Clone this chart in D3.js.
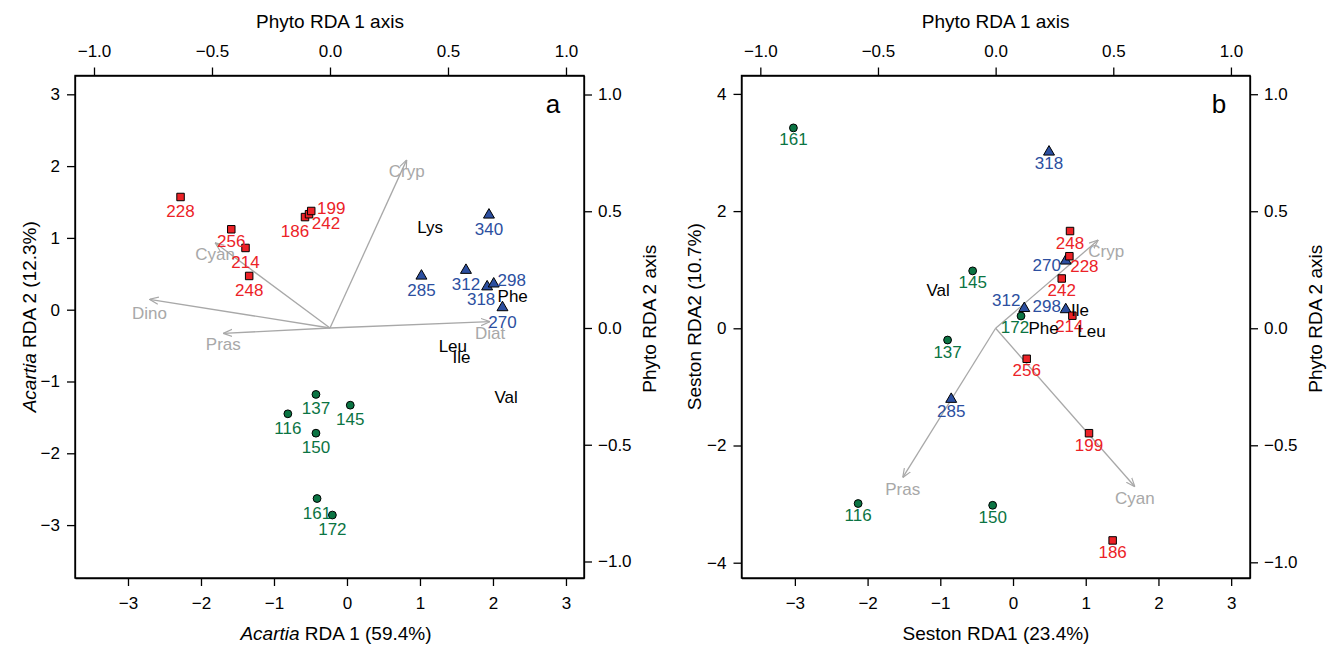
<!DOCTYPE html>
<html>
<head>
<meta charset="utf-8">
<script src="https://cdn.jsdelivr.net/npm/d3@7"></script>
<style>
  body { margin: 0; background: #fff; }
  text { font-family: "Liberation Sans", Arial, Helvetica, sans-serif; }
</style>
</head>
<body>
<div id="container"></div>
<script>
// ---- panel a : Acartia RDA ----
// [label, RDA1, RDA2]
var aRed   = [["228",-2.28,1.57],["256",-1.585,1.12],["214",-1.39,0.86],["248",-1.34,0.47],
              ["186",-0.575,1.29],["242",-0.52,1.33],["199",-0.49,1.375]];
var aBlue  = [["340",1.945,1.32],["285",1.02,0.47],["312",1.63,0.55],["318",1.92,0.32],
              ["298",2.01,0.36],["270",2.13,0.03]];
var aGreen = [["137",-0.425,-1.18],["145",0.045,-1.33],["116",-0.81,-1.45],["150",-0.425,-1.72],
              ["161",-0.41,-2.63],["172",-0.2,-2.86]];
var aAmino = [["Lys",1.14,1.14],["Phe",2.27,0.19],["Leu",1.45,-0.51],["Ile",1.57,-0.67],["Val",2.18,-1.22]];
// phyto arrows, on the phyto axes
var aPhyto = [["Cryp",0.325,0.72],["Cyan",-0.487,0.365],["Dino",-0.765,0.123],["Pras",-0.452,-0.023],["Diat",0.678,0.027]];

// ---- panel b : Seston RDA ----
var bGreen = [["161",-3.02,3.42],["145",-0.555,0.98],["137",-0.90,-0.20],["172",0.11,0.21],
              ["116",-2.13,-2.99],["150",-0.28,-3.02]];
var bRed   = [["248",0.784,1.66],["228",0.775,1.23],["242",0.67,0.85],["214",0.816,0.215],
              ["256",0.188,-0.52],["199",1.045,-1.79],["186",1.37,-3.62]];
var bBlue  = [["318",0.495,3.01],["270",0.725,1.15],["312",0.155,0.34],["298",0.725,0.32],["285",-0.85,-1.21]];
var bAmino = [["Val",-1.03,0.65],["Ile",0.92,0.31],["Leu",1.08,-0.06],["Phe",0.42,0.0]];
var bPhyto = [["Cryp",0.436,0.377],["Pras",-0.395,-0.638],["Cyan",0.592,-0.677]];

var xTicks = [-3,-2,-1,0,1,2,3];
var aYTicks = [-3,-2,-1,0,1,2,3];
var bYTicks = [-4,-2,0,2,4];
var phytoTicks = [-1,-0.5,0,0.5,1];

// label nudges (px), default is straight below the symbol
var aNudge = {"186":[-10,14],"242":[17,9],"199":[20,-2],"318":[-6,12.5],"298":[18,-3],"256":[0,12.5]};
var bNudge = {"228":[15,10],"214":[-3,11],"172":[-6,12],"270":[-19,5],"312":[-18,-8],"298":[-19,-3]};

var RED = "#ec2227", BLUE = "#2c4fa0", GREEN = "#0b7443", GREY = "#a8a8a8";
var width = 1336, height = 646;

var svg = d3.select("div#container").append("svg")
  .attr("width", width).attr("height", height);

svg.append("defs").append("marker")
  .attr("id", "head")
  .attr("viewBox", "0 0 10 10")
  .attr("refX", 10).attr("refY", 5)
  .attr("markerWidth", 9).attr("markerHeight", 9)
  .attr("markerUnits", "userSpaceOnUse")
  .attr("orient", "auto")
  .append("path")
  .attr("d", "M0,1 L10,5 L0,9")
  .attr("fill", "none").attr("stroke", GREY).attr("stroke-width", 1.3);

function drawPanel(p) {
  var top = 75.5, bottom = 578;
  var x = d3.scaleLinear().domain(p.xdom).range([p.left, p.right]);
  var y = d3.scaleLinear().domain(p.ydom).range([bottom, top]);
  var px = d3.scaleLinear().domain(p.pxdom).range([p.left, p.right]);
  var py = d3.scaleLinear().domain(p.pydom).range([bottom, top]);
  var g = svg.append("g");

  function styleAxis(ax) {
    ax.selectAll("path,line").attr("stroke", "#000").attr("stroke-width", 1.3);
    ax.selectAll("text").attr("font-size", 17).attr("fill", "#000")
      .style("font-family", "'Liberation Sans', Arial, sans-serif");
  }
  styleAxis(g.append("g").attr("transform", "translate(0," + bottom + ")")
    .call(d3.axisBottom(x).tickValues(xTicks).tickSize(8).tickSizeOuter(0).tickPadding(11).tickFormat(d3.format("d"))));
  styleAxis(g.append("g").attr("transform", "translate(" + p.left + ",0)")
    .call(d3.axisLeft(y).tickValues(p.yticks).tickSize(8).tickSizeOuter(0).tickPadding(7).tickFormat(d3.format("d"))));
  styleAxis(g.append("g").attr("transform", "translate(0," + top + ")")
    .call(d3.axisTop(px).tickValues(phytoTicks).tickSize(8).tickSizeOuter(0).tickPadding(11).tickFormat(d3.format(".1f"))));
  styleAxis(g.append("g").attr("transform", "translate(" + p.right + ",0)")
    .call(d3.axisRight(py).tickValues(phytoTicks).tickSize(8).tickSizeOuter(0).tickPadding(6).tickFormat(d3.format(".1f"))));

  g.append("rect")
    .attr("x", p.left).attr("y", top)
    .attr("width", p.right - p.left).attr("height", bottom - top)
    .attr("fill", "none").attr("stroke", "#000").attr("stroke-width", 1.4);

  // arrows
  g.selectAll(".arrow").data(p.phyto).enter().append("line")
    .attr("x1", px(0)).attr("y1", py(0))
    .attr("x2", function(d) { return px(d[1]); })
    .attr("y2", function(d) { return py(d[2]); })
    .attr("stroke", GREY).attr("stroke-width", 1.3)
    .attr("marker-end", "url(#head)");
  g.selectAll(".alab").data(p.phyto).enter().append("text")
    .attr("x", function(d) { var n = p.arrowNudge[d[0]] || [0, 11.5]; return px(d[1]) + n[0]; })
    .attr("y", function(d) { var n = p.arrowNudge[d[0]] || [0, 11.5]; return py(d[2]) + n[1]; })
    .attr("text-anchor", "middle").attr("dominant-baseline", "central")
    .attr("font-size", 17).attr("fill", GREY)
    .text(function(d) { return d[0]; });

  // site symbols + labels
  function sites(data, shape, size, col) {
    g.selectAll(null).data(data).enter().append("path")
      .attr("d", d3.symbol().type(shape).size(size))
      .attr("transform", function(d) { return "translate(" + x(d[1]) + "," + y(d[2]) + ")"; })
      .attr("fill", col).attr("stroke", "#000").attr("stroke-width", 1);
    g.selectAll(null).data(data).enter().append("text")
      .attr("x", function(d) { var n = p.nudge[d[0]] || [0, p.below]; return x(d[1]) + n[0]; })
      .attr("y", function(d) { var n = p.nudge[d[0]] || [0, p.below]; return y(d[2]) + n[1]; })
      .attr("text-anchor", "middle").attr("dominant-baseline", "central")
      .attr("font-size", 17).attr("fill", col)
      .text(function(d) { return d[0]; });
  }
  sites(p.blue, d3.symbolTriangle, 52, BLUE);
  sites(p.red, d3.symbolSquare, 56, RED);
  sites(p.green, d3.symbolCircle, 48, GREEN);

  g.selectAll(null).data(p.amino).enter().append("text")
    .attr("x", function(d) { return x(d[1]); })
    .attr("y", function(d) { return y(d[2]); })
    .attr("text-anchor", "middle").attr("dominant-baseline", "central")
    .attr("font-size", 17).attr("fill", "#000")
    .text(function(d) { return d[0]; });

  // panel letter
  g.append("text").attr("x", p.right - 31).attr("y", 113)
    .attr("text-anchor", "middle").attr("font-size", 26).text(p.letter);

  // titles
  g.append("text").attr("x", px(0)).attr("y", 28).attr("text-anchor", "middle")
    .attr("font-size", 19).text("Phyto RDA 1 axis");
  var bt = g.append("text").attr("x", p.xtitleX).attr("y", 640).attr("text-anchor", "middle").attr("font-size", 19);
  if (p.italic) bt.append("tspan").attr("font-style", "italic").text(p.italic + " ");
  bt.append("tspan").text(p.xtitle);
  var lt = g.append("text").attr("transform", "translate(" + p.ytitleX + "," + ((top + bottom) / 2 - 10) + ") rotate(-90)")
    .attr("text-anchor", "middle").attr("font-size", 19);
  if (p.italic) lt.append("tspan").attr("font-style", "italic").text(p.italic + " ");
  lt.append("tspan").text(p.ytitle);
  g.append("text").attr("transform", "translate(" + (p.right + 72) + "," + ((top + bottom) / 2 - 8) + ") rotate(-90)")
    .attr("text-anchor", "middle").attr("font-size", 19).text("Phyto RDA 2 axis");
}

drawPanel({
  left: 75, right: 584,
  xdom: [-3.726, 3.247], ydom: [-3.737, 3.262],
  pxdom: [-1.0805, 1.0763], pydom: [-1.0707, 1.0814],
  yticks: aYTicks,
  red: aRed, blue: aBlue, green: aGreen, amino: aAmino, phyto: aPhyto,
  nudge: aNudge, below: 14.5, arrowNudge: {"Dino": [0, 14]},
  letter: "a", italic: "Acartia", xtitle: "RDA 1 (59.4%)", ytitle: "RDA 2 (12.3%)",
  xtitleX: 336, ytitleX: 36
});

drawPanel({
  left: 741.5, right: 1250,
  xdom: [-3.734, 3.259], ydom: [-4.261, 4.314],
  pxdom: [-1.08, 1.081], pydom: [-1.067, 1.08],
  yticks: bYTicks,
  red: bRed, blue: bBlue, green: bGreen, amino: bAmino, phyto: bPhyto,
  nudge: bNudge, below: 12, arrowNudge: {"Cryp": [8, 11], "Pras": [0, 12], "Cyan": [0, 12]},
  letter: "b", italic: null, xtitle: "Seston RDA1 (23.4%)", ytitle: "Seston RDA2 (10.7%)",
  xtitleX: 996, ytitleX: 701
});
</script>
</body>
</html>
